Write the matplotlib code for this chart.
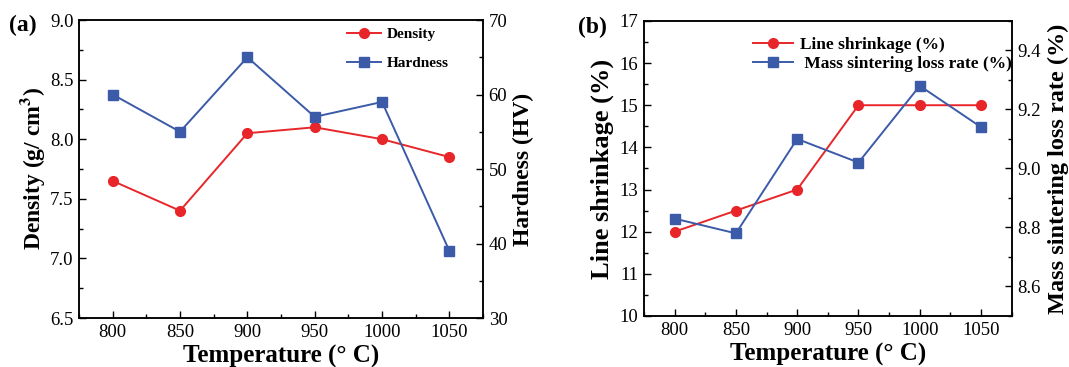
import matplotlib
matplotlib.use("Agg")
import matplotlib.pyplot as plt
from matplotlib.ticker import MultipleLocator

plt.rcParams["font.family"] = ["Liberation Serif", "DejaVu Serif"]
plt.rcParams["mathtext.fontset"] = "stix"

# data
temps = [800, 850, 900, 950, 1000, 1050]
density = [7.65, 7.40, 8.05, 8.10, 8.00, 7.85]
hardness = [60, 55, 65, 57, 59, 39]
shrinkage = [12.0, 12.5, 13.0, 15.0, 15.0, 15.0]
mass_loss = [8.83, 8.78, 9.10, 9.02, 9.28, 9.14]

RED = "#e8262a"
BLUE = "#3b5aa8"
TICK_FS = 13.5


def style_axis(ax, minor_y):
    ax.tick_params(direction="in", labelsize=TICK_FS, length=5, width=1, pad=4)
    ax.tick_params(which="minor", direction="in", length=3, width=1)
    ax.yaxis.set_minor_locator(MultipleLocator(minor_y))
    for s in ax.spines.values():
        s.set_linewidth(1.1)


fig = plt.figure(figsize=(10.69, 3.67), dpi=100)

# ---- panel (a)
ax1 = fig.add_axes([0.0739, 0.1335, 0.378, 0.812])
ax2 = ax1.twinx()
l1, = ax1.plot(temps, density, "-o", color=RED, ms=7, lw=1.4, label="Density")
l2, = ax2.plot(temps, hardness, "-s", color=BLUE, ms=7, lw=1.4, label="Hardness")
ax1.set_xlim(775, 1075)
ax1.set_ylim(6.5, 9.0)
ax2.set_ylim(30, 70)
ax1.set_xticks(temps)
ax1.xaxis.set_minor_locator(MultipleLocator(25))
ax1.set_yticks([6.5, 7.0, 7.5, 8.0, 8.5, 9.0])
ax2.set_yticks([30, 40, 50, 60, 70])
style_axis(ax1, 0.25)
style_axis(ax2, 5)
ax1.set_xlabel("Temperature (° C)", fontsize=18, fontweight="bold", labelpad=3)
ax1.set_ylabel("Density (g/ cm$^\\mathbf{3}$)", fontsize=17, fontweight="bold", labelpad=2)
ax2.set_ylabel("Hardness (HV)", fontsize=17, fontweight="bold", labelpad=4)
ax1.legend(handles=[l1, l2], loc="upper right", frameon=False,
           prop={"weight": "bold", "size": 11}, handlelength=2.2,
           handletextpad=0.4, labelspacing=1.0, bbox_to_anchor=(0.95, 1.02))
fig.text(0.008, 0.915, "(a)", fontsize=17, fontweight="bold")

# ---- panel (b)
bx1 = fig.add_axes([0.6024, 0.139, 0.344, 0.804])
bx2 = bx1.twinx()
m1, = bx1.plot(temps, shrinkage, "-o", color=RED, ms=7, lw=1.4, label="Line shrinkage (%)")
m2, = bx2.plot(temps, mass_loss, "-s", color=BLUE, ms=7, lw=1.4, label=" Mass sintering loss rate (%)")
bx1.set_xlim(775, 1075)
bx1.set_ylim(10, 17)
bx2.set_ylim(8.5, 9.5)
bx1.set_xticks(temps)
bx1.xaxis.set_minor_locator(MultipleLocator(25))
bx1.set_yticks(range(10, 18))
bx2.set_yticks([8.6, 8.8, 9.0, 9.2, 9.4])
style_axis(bx1, 0.5)
style_axis(bx2, 0.1)
bx1.set_xlabel("Temperature (° C)", fontsize=18, fontweight="bold", labelpad=3)
bx1.set_ylabel("Line shrinkage (%)", fontsize=19, fontweight="bold", labelpad=4)
bx2.set_ylabel("Mass sintering loss rate (%)", fontsize=17.5, fontweight="bold", labelpad=5)
bx1.legend(handles=[m1, m2], loc="upper right", frameon=False,
           prop={"weight": "bold", "size": 12.5}, handlelength=2.3,
           handletextpad=0.4, labelspacing=0.2, bbox_to_anchor=(1.042, 1.0))
fig.text(0.541, 0.91, "(b)", fontsize=17, fontweight="bold")

fig.savefig("out.png", dpi=100)
